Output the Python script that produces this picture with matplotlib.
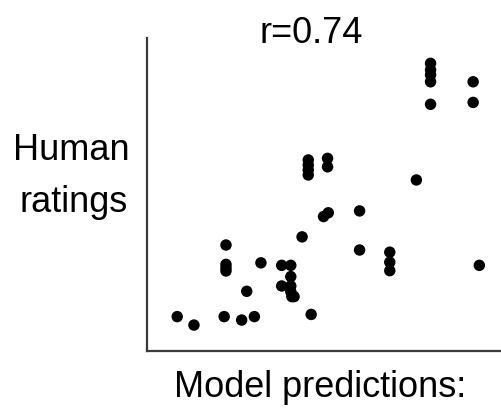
import matplotlib
matplotlib.use("Agg")
import matplotlib.pyplot as plt

plt.rcParams['font.family'] = ['Liberation Sans', 'DejaVu Sans']

# model predictions (x) and mean human ratings (y), both on a 0-1 scale
model_pred = [
    0.083, 0.129, 0.212, 0.260, 0.295,
    0.217, 0.217, 0.217, 0.217, 0.274, 0.313,
    0.370, 0.395, 0.395, 0.370, 0.395, 0.395, 0.398, 0.404, 0.451,
    0.426, 0.443, 0.443, 0.443, 0.443, 0.496, 0.496, 0.485, 0.498,
    0.584, 0.584, 0.667, 0.667, 0.667, 0.740,
    0.779, 0.779, 0.779, 0.779, 0.779, 0.896, 0.896, 0.913,
]
human_rating = [
    0.109, 0.082, 0.109, 0.098, 0.109,
    0.338, 0.276, 0.265, 0.255, 0.190, 0.281,
    0.273, 0.273, 0.237, 0.207, 0.207, 0.189, 0.173, 0.173, 0.116,
    0.364, 0.610, 0.594, 0.578, 0.562, 0.615, 0.588, 0.429, 0.441,
    0.447, 0.322, 0.315, 0.283, 0.256, 0.546,
    0.919, 0.898, 0.882, 0.860, 0.788, 0.860, 0.794, 0.273,
]
r_value = 0.74

W, H = 501, 408
fig = plt.figure(figsize=(W / 100, H / 100), dpi=100)
ax = fig.add_axes([147 / W, 57.3 / H, 364 / W, 312.7 / H])

ax.scatter(model_pred, human_rating, s=68, color='black', edgecolors='none', zorder=3)
ax.set_xlim(0, 1)
ax.set_ylim(0, 1)

for side in ('top', 'right'):
    ax.spines[side].set_visible(False)
for side in ('left', 'bottom'):
    ax.spines[side].set_linewidth(1.6)
    ax.spines[side].set_color('#3a3a3a')
ax.set_xticks([])
ax.set_yticks([])

# labels placed by baseline in pixel terms
def px_text(x, y, s):
    fig.text(x / W, (H - y) / H, s, ha='center', va='baseline', fontsize=26)

px_text(311, 42.7, f"r={r_value:.2f}")
px_text(320, 396.7, "Model predictions:")
px_text(71.5, 160, "Human")
px_text(73.5, 212.3, "ratings")

fig.savefig("out.png", dpi=100)
